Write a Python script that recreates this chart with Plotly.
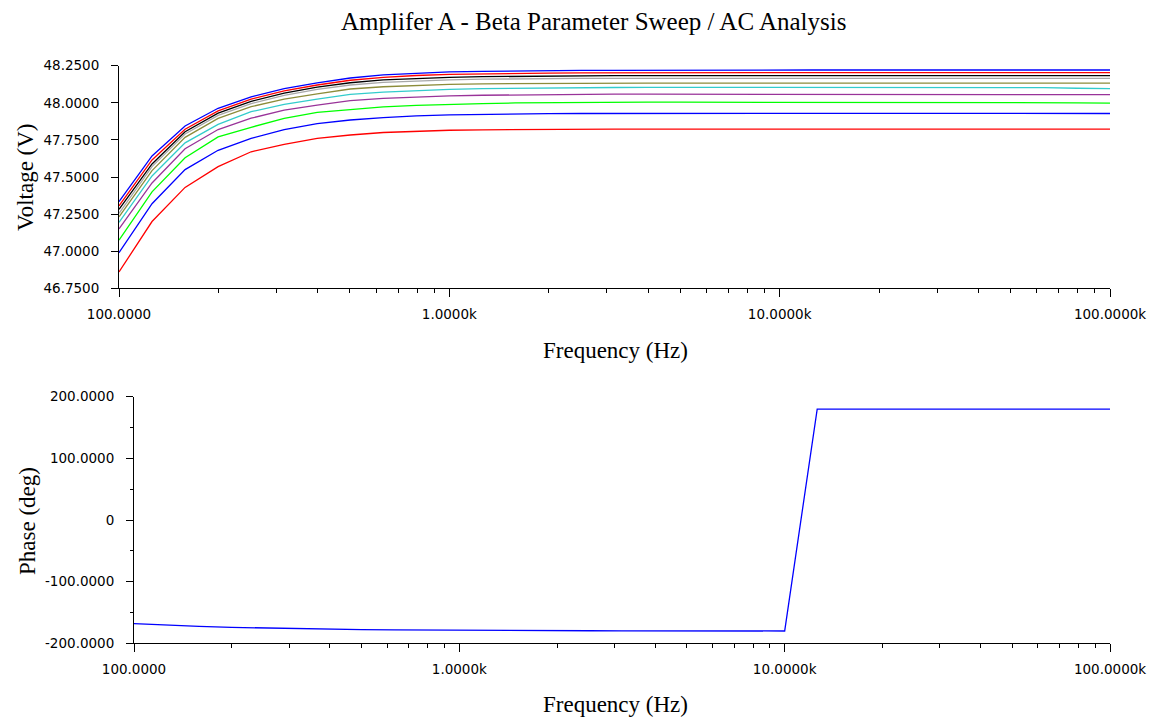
import plotly.graph_objects as go

# ---------------- data ----------------
freq_hz = [100, 125.89, 158.49, 199.53, 251.19, 316.23, 398.11, 501.19, 630.96, 794.33,
           1000, 1258.9, 1584.9, 1995.3, 2511.9, 3162.3, 3981.1, 5011.9, 6309.6, 7943.3,
           10000, 12589, 15849, 19953, 25119, 31623, 39811, 50119, 63096, 79433, 100000]

# Voltage curves (beta sweep), 10 traces, bottom to top
v_red_1 = [46.860, 47.200, 47.430, 47.570, 47.670, 47.720, 47.760, 47.783, 47.800, 47.810,
           47.815, 47.818, 47.820, 47.821, 47.822, 47.822, 47.823, 47.823, 47.823, 47.823,
           47.823, 47.823, 47.823, 47.823, 47.823, 47.823, 47.823, 47.823, 47.823, 47.823, 47.822]
v_blue_1 = [46.990, 47.320, 47.550, 47.680, 47.760, 47.820, 47.860, 47.884, 47.900, 47.912,
            47.918, 47.922, 47.925, 47.927, 47.928, 47.929, 47.929, 47.929, 47.929, 47.929,
            47.929, 47.929, 47.929, 47.929, 47.929, 47.929, 47.929, 47.929, 47.929, 47.928, 47.928]
v_green = [47.075, 47.400, 47.630, 47.770, 47.835, 47.895, 47.935, 47.956, 47.972, 47.982,
           47.990, 47.995, 47.999, 48.001, 48.003, 48.004, 48.004, 48.004, 48.004, 48.004,
           48.004, 48.004, 48.004, 48.004, 48.004, 48.004, 48.003, 48.003, 48.003, 48.000, 47.998]
v_purple = [47.150, 47.460, 47.690, 47.820, 47.896, 47.950, 47.985, 48.014, 48.030, 48.040,
            48.047, 48.051, 48.054, 48.056, 48.057, 48.058, 48.058, 48.058, 48.058, 48.058,
            48.058, 48.057, 48.056, 48.056, 48.056, 48.056, 48.056, 48.056, 48.056, 48.056, 48.055]
v_cyan = [47.195, 47.507, 47.730, 47.855, 47.940, 47.990, 48.025, 48.057, 48.072, 48.083,
          48.090, 48.095, 48.098, 48.100, 48.102, 48.103, 48.104, 48.104, 48.104, 48.104,
          48.104, 48.104, 48.104, 48.104, 48.104, 48.103, 48.103, 48.103, 48.102, 48.098, 48.096]
v_olive = [47.232, 47.543, 47.767, 47.895, 47.974, 48.025, 48.060, 48.093, 48.108, 48.118,
           48.124, 48.128, 48.130, 48.131, 48.132, 48.133, 48.133, 48.133, 48.133, 48.133,
           48.133, 48.133, 48.133, 48.133, 48.133, 48.133, 48.133, 48.133, 48.133, 48.133, 48.133]
v_gray = [47.255, 47.570, 47.790, 47.915, 47.995, 48.050, 48.090, 48.120, 48.138, 48.149,
          48.155, 48.159, 48.162, 48.163, 48.164, 48.165, 48.165, 48.165, 48.165, 48.165,
          48.165, 48.165, 48.165, 48.165, 48.165, 48.165, 48.165, 48.165, 48.165, 48.165, 48.165]
v_black = [47.282, 47.588, 47.805, 47.930, 48.010, 48.065, 48.105, 48.135, 48.155, 48.166,
           48.172, 48.176, 48.179, 48.181, 48.182, 48.183, 48.183, 48.183, 48.183, 48.183,
           48.183, 48.183, 48.183, 48.183, 48.183, 48.183, 48.183, 48.183, 48.183, 48.183, 48.183]
v_red_2 = [47.305, 47.615, 47.822, 47.945, 48.025, 48.080, 48.120, 48.152, 48.172, 48.184,
           48.191, 48.195, 48.198, 48.200, 48.201, 48.202, 48.203, 48.203, 48.203, 48.203,
           48.203, 48.203, 48.203, 48.203, 48.203, 48.203, 48.203, 48.203, 48.203, 48.203, 48.203]
v_blue_2 = [47.334, 47.642, 47.844, 47.963, 48.040, 48.095, 48.135, 48.167, 48.188, 48.200,
            48.208, 48.212, 48.215, 48.217, 48.218, 48.219, 48.220, 48.221, 48.221, 48.221,
            48.221, 48.221, 48.221, 48.221, 48.221, 48.221, 48.221, 48.221, 48.221, 48.221, 48.221]

voltage_series = [v_red_1, v_blue_1, v_green, v_purple, v_cyan, v_olive, v_gray, v_black, v_red_2, v_blue_2]
series_colors = ["#FF0000", "#0000FF", "#00FF00", "#993399", "#33CCCC",
                 "#8C8C3A", "#A8A8A8", "#000000", "#FF0000", "#0000FF"]

phase_deg = [-168.0, -170.5, -172.5, -174.0, -175.2, -176.2, -177.0, -177.6, -178.1, -178.5,
             -178.8, -179.0, -179.2, -179.4, -179.5, -179.6, -179.7, -179.75, -179.8, -179.85,
             -179.9, 179.9, 179.92, 179.94, 179.95, 179.96, 179.97, 179.97, 179.98, 179.98, 179.99]

x_tick_vals = [100, 1000, 10000, 100000]
x_tick_text = ["100.0000", "1.0000k", "10.0000k", "100.0000k"]
x_minor_vals = [200, 300, 400, 500, 600, 700, 800, 900,
                2000, 3000, 4000, 5000, 6000, 7000, 8000, 9000,
                20000, 30000, 40000, 50000, 60000, 70000, 80000, 90000]

v_tick_vals = [46.75, 47.0, 47.25, 47.5, 47.75, 48.0, 48.25]
v_tick_text = ["46.7500", "47.0000", "47.2500", "47.5000", "47.7500", "48.0000", "48.2500"]

p_tick_vals = [-200, -100, 0, 100, 200]
p_tick_text = ["-200.0000", "-100.0000", "0", "100.0000", "200.0000"]
p_minor_vals = [-150, -50, 50, 150]

title_text = "Amplifer A - Beta Parameter Sweep / AC Analysis"

# ---------------- figure ----------------
# page body has an 8px margin: work in window pixels and shift
OFF = 8
W, H = 1157 - OFF, 724 - OFF


def px(x):
    return (x - OFF) / W


def py(y):
    return 1 - (y - OFF) / H


fig = go.Figure()

for vals, col in zip(voltage_series, series_colors):
    fig.add_trace(go.Scatter(x=freq_hz, y=vals, mode="lines",
                             line=dict(color=col, width=1.3),
                             xaxis="x", yaxis="y", showlegend=False))

fig.add_trace(go.Scatter(x=freq_hz, y=phase_deg, mode="lines",
                         line=dict(color="#0000FF", width=1.3),
                         xaxis="x2", yaxis="y2", showlegend=False))

tick_font = dict(family="DejaVu Sans", size=13.5, color="#000000")
serif = "Liberation Serif"

common_x = dict(type="log", range=[2, 5], tickvals=x_tick_vals, ticktext=x_tick_text,
                ticks="outside", ticklen=8, tickwidth=1, tickcolor="#000",
                showline=True, linecolor="#000", linewidth=1,
                showgrid=False, zeroline=False, tickfont=tick_font,
                ticklabelstandoff=5, automargin=False,
                minor=dict(tickvals=x_minor_vals, ticks="outside", ticklen=4,
                           tickwidth=1, tickcolor="#000", showgrid=False))

fig.update_layout(
    width=W, height=H,
    margin=dict(l=0, r=0, t=0, b=0),
    paper_bgcolor="white", plot_bgcolor="white",
    xaxis=dict(domain=[px(119), px(1110)], anchor="y", **common_x),
    xaxis2=dict(domain=[px(134), px(1110)], anchor="y2", **common_x),
    yaxis=dict(domain=[py(288.3), py(65.7)], anchor="x",
               range=[46.75, 48.25], tickvals=v_tick_vals, ticktext=v_tick_text,
               ticks="outside", ticklen=7, tickwidth=1, tickcolor="#000",
               showline=True, linecolor="#000", linewidth=1,
               showgrid=False, zeroline=False, tickfont=tick_font,
               ticklabelstandoff=9, automargin=False),
    yaxis2=dict(domain=[py(643.4), py(396.7)], anchor="x2",
                range=[-200, 200], tickvals=p_tick_vals, ticktext=p_tick_text,
                ticks="outside", ticklen=7, tickwidth=1, tickcolor="#000",
                showline=True, linecolor="#000", linewidth=1,
                showgrid=False, zeroline=False, tickfont=tick_font,
                ticklabelstandoff=9, automargin=False,
                minor=dict(tickvals=p_minor_vals, ticks="outside", ticklen=3,
                           tickwidth=1, tickcolor="#000", showgrid=False)),
)

# chart title as a paper annotation, kept fully inside the figure
fig.add_annotation(text=title_text, xref="paper", yref="paper", showarrow=False,
                   x=px(593), y=py(22), xanchor="center", yanchor="middle",
                   font=dict(family=serif, size=25, color="#000"))

axis_title_font = dict(family=serif, size=23, color="#000")
annos = [
    dict(text="Frequency (Hz)", x=px(615), y=py(350)),
    dict(text="Frequency (Hz)", x=px(615), y=py(704)),
    dict(text="Voltage (V)", x=px(25), y=py(177), textangle=-90),
    dict(text="Phase (deg)", x=px(27), y=py(521), textangle=-90),
]
for a in annos:
    fig.add_annotation(xref="paper", yref="paper", showarrow=False,
                       xanchor="center", yanchor="middle",
                       font=axis_title_font, **a)

fig.write_html("out.html")
